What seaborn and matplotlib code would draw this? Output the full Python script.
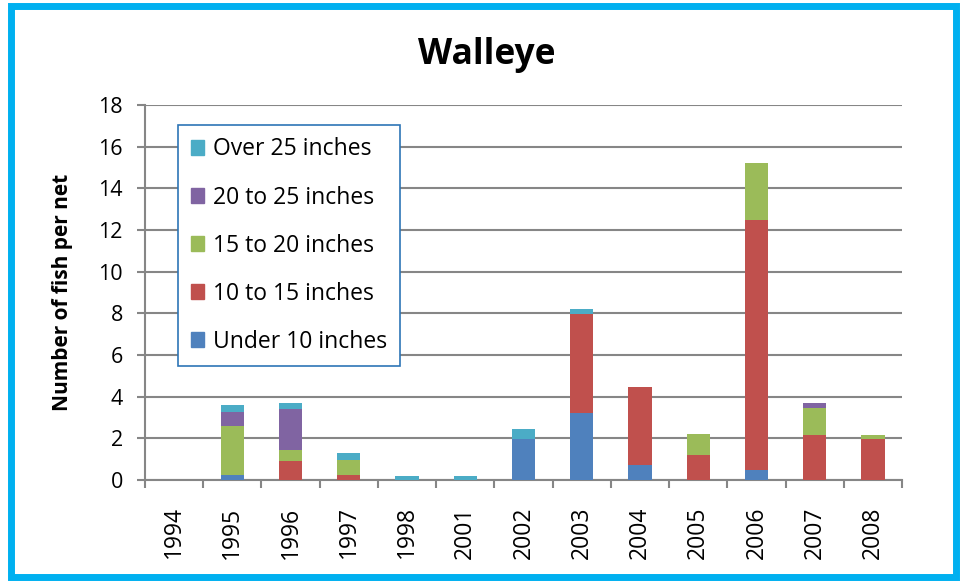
import matplotlib
matplotlib.use("Agg")
import matplotlib.pyplot as plt
import matplotlib.patches as mpatches
import numpy as np
import pandas as pd
import seaborn as sns

years = ['1994', '1995', '1996', '1997', '1998', '2001', '2002',
         '2003', '2004', '2005', '2006', '2007', '2008']
under_10 = [0, 0.26, 0, 0, 0, 0, 1.95, 3.2, 0.73, 0, 0.5, 0, 0]
from_10_15 = [0, 0, 0.93, 0.26, 0, 0, 0, 4.75, 3.75, 1.22, 11.98, 2.18, 1.97]
from_15_20 = [0, 2.33, 0.51, 0.68, 0, 0, 0, 0, 0, 1.0, 2.75, 1.28, 0.21]
from_20_25 = [0, 0.67, 1.98, 0, 0, 0, 0, 0, 0, 0, 0, 0.24, 0]
over_25 = [0, 0.34, 0.27, 0.36, 0.19, 0.2, 0.51, 0.24, 0, 0, 0, 0, 0]

labels = ['Under 10 inches', '10 to 15 inches', '15 to 20 inches',
          '20 to 25 inches', 'Over 25 inches']
colors = ['#4F81BD', '#C0504D', '#9BBB59', '#8064A2', '#4BACC6']

sns.set_theme(style='white')
plt.rcParams['font.family'] = ['Open Sans', 'DejaVu Sans']
plt.rcParams['text.color'] = 'black'
plt.rcParams['axes.labelcolor'] = 'black'
plt.rcParams['xtick.color'] = 'black'
plt.rcParams['ytick.color'] = 'black'
grey = '#868686'

df = pd.DataFrame({'year': years})
layers = [under_10, from_10_15, from_15_20, from_20_25, over_25]
cum = np.cumsum(np.array(layers), axis=0)

fig = plt.figure(figsize=(9.62, 5.81), dpi=100)
ax = fig.add_axes([0.1507, 0.1738, 0.7869, 0.6455])

# stacked bars: draw cumulative totals from the top layer down
for i in range(len(layers) - 1, -1, -1):
    df['val'] = cum[i]
    sns.barplot(data=df, x='year', y='val', order=years, color=colors[i],
                width=0.4, linewidth=0, saturation=1, ax=ax, zorder=3)

ax.set_xlim(-0.5, len(years) - 0.5)
ax.set_ylim(0, 18)
ax.set_yticks(range(0, 19, 2))
ax.yaxis.grid(True, color=grey, linewidth=1.5)
ax.set_axisbelow(True)

ax.set_xticks(range(len(years)))
ax.set_xticklabels(years, rotation=90, fontsize=16.5)
ax.set_xticks(np.arange(-0.5, len(years)), minor=True)
ax.tick_params(axis='x', which='major', length=0, pad=19, colors='black')
ax.tick_params(axis='x', which='minor', length=6, width=1.5, color=grey,
               direction='out', bottom=True)
ax.tick_params(axis='y', labelsize=15.5, length=6, width=1.5, color=grey,
               labelcolor='black', direction='out', left=True, pad=10)

for s in ['top', 'right']:
    ax.spines[s].set_visible(False)
for s in ['left', 'bottom']:
    ax.spines[s].set_color(grey)
    ax.spines[s].set_linewidth(1.5)

ax.set_xlabel('')
ax.set_ylabel('Number of fish per net', fontsize=15, fontweight='bold',
              labelpad=18, color='black')
fig.text(0.506, 0.905, 'Walleye', ha='center', va='center', fontsize=25.5,
         fontweight='bold', color='black')

handles = [mpatches.Patch(color=colors[i], label=labels[i])
           for i in range(len(labels) - 1, -1, -1)]
leg = ax.legend(handles=handles, loc='upper left',
                bbox_to_anchor=(0.0436, 0.947), borderaxespad=0,
                fontsize=16.5, frameon=True, fancybox=False, framealpha=1,
                labelspacing=1.05, handlelength=0.6, handleheight=0.6,
                handletextpad=0.4, borderpad=0.55, labelcolor='black')
leg.get_frame().set_edgecolor('#2E75B6')
leg.get_frame().set_linewidth(1.2)

# outer chart border
fig.patches.append(mpatches.Rectangle((11 / 962, 4 / 581), 945 / 962, 571 / 581,
                                      transform=fig.transFigure, fill=False,
                                      edgecolor='#00B0F0', linewidth=5))

fig.savefig('out.png', dpi=100)
